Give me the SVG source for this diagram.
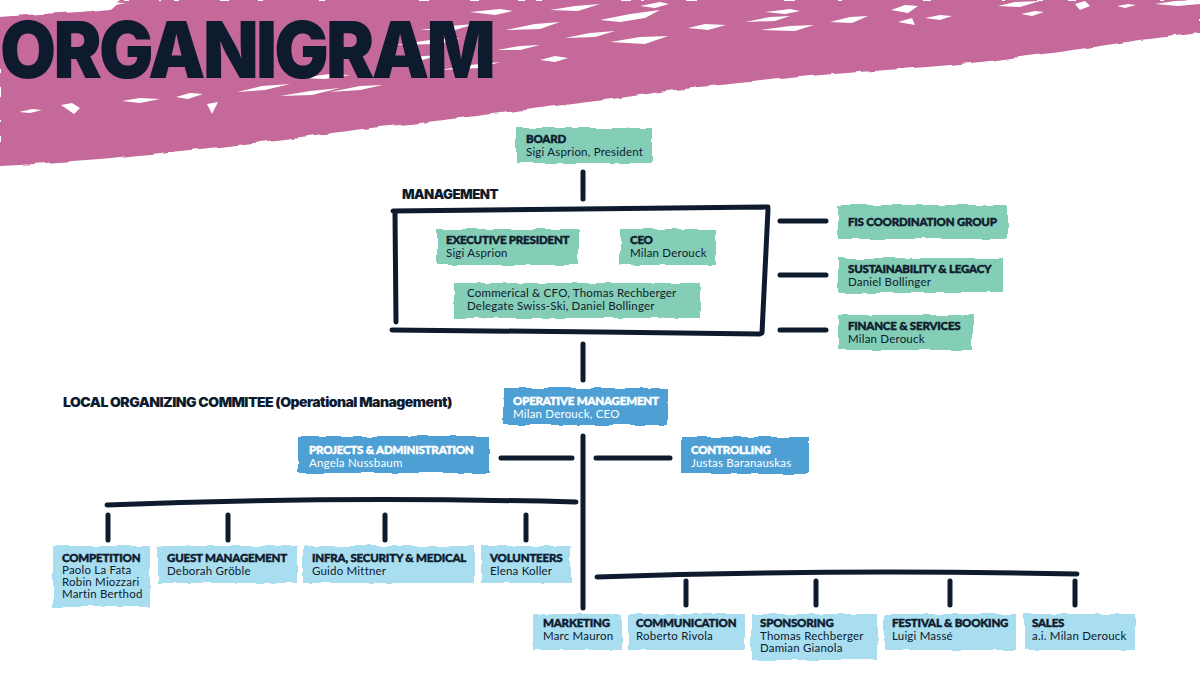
<svg xmlns="http://www.w3.org/2000/svg" width="1200" height="675" viewBox="0 0 1200 675">
<defs>
<filter id="rough" x="-5%" y="-20%" width="110%" height="140%">
<feTurbulence type="fractalNoise" baseFrequency="0.06" numOctaves="2" seed="3" result="n"/>
<feDisplacementMap in="SourceGraphic" in2="n" scale="5" xChannelSelector="R" yChannelSelector="G"/>
</filter>
<style>
.teal{fill:#84CDB6;filter:url(#rough)}
.blue{fill:#4E9FD4;filter:url(#rough)}
.lblue{fill:#A9DDF0;filter:url(#rough)}
.h{font-family:Lato,"Liberation Sans",sans-serif;font-weight:900;font-size:11.5px;fill:#0E1B2E;stroke:#0E1B2E;stroke-width:0.45px;letter-spacing:-0.2px}
.n{font-family:Lato,"Liberation Sans",sans-serif;font-weight:400;font-size:11.5px;fill:#0E1B2E;letter-spacing:0.2px}
.w{fill:#FFFFFF;stroke:none}
.h.w{stroke:#FFFFFF}
.lbl{font-family:Inter,Lato,"Liberation Sans",sans-serif;font-weight:900;font-size:13px;fill:#0E1B2E;letter-spacing:-0.5px}
.ln{stroke:#0E1B2E;stroke-width:5;stroke-linecap:round;fill:none}
.streak{fill:#FFFFFF}
</style>
</defs>
<rect width="1200" height="675" fill="#FFFFFF"/>
<g id="banner">
<path fill="#C5679A" filter="url(#rough)" d="M0,17 L40,14 L80,12 L110,9 L120,0 H1200 V33 L1175,36 L1140,40 L1100,46 L1060,52 L1020,57 L980,62 L940,66 L900,69 L860,72 L820,75 L780,79 L740,83 L700,87 L660,92 L620,98 L580,103 L540,108 L500,113 L460,118 L420,123 L380,127 L340,132 L300,137 L260,142 L220,147 L180,151 L140,155 L100,159 L60,162 L20,165 L0,166 Z"/>
<g class="streak">
<path d="M19,112 L32,109 L42,110 L30,113 Z"/>
<path d="M61,105 L72,103 L80,108 L74,114 Z"/>
<path d="M122,101 L140,98 L160,99 L140,103 Z"/>
<path d="M176,97 L190,93 L203,94 L188,99 Z"/>
<path d="M207,104 L218,102 L212,114 Z"/>
<path d="M78,4 L100,2 L126,3 L105,7 Z"/>
<path d="M237,92 L262,86 L290,84 L265,90 Z"/>
<path d="M280,96 L310,91 L340,88 L312,95 Z"/>
<path d="M300,78 L330,74 L350,75 L325,79 Z"/>
<path d="M330,92 L360,86 L383,85 L360,90 Z"/>
<path d="M383,62 L410,57 L440,55 L415,62 Z"/>
<path d="M395,45 L430,40 L460,38 L440,44 Z"/>
<path d="M420,30 L450,26 L475,24 L455,30 Z"/>
<path d="M440,70 L470,65 L500,62 L480,68 Z"/>
<path d="M470,12 L500,9 L513,11 L495,15 Z"/>
<path d="M497,50 L520,46 L540,45 L520,50 Z"/>
<path d="M505,30 L535,24 L560,22 L540,29 Z"/>
<path d="M540,60 L555,56 L568,58 L555,62 Z"/>
<path d="M550,10 L575,6 L600,4 L578,11 Z"/>
<path d="M565,38 L590,33 L615,31 L595,37 Z"/>
<path d="M600,20 L630,14 L660,10 L645,18 L620,22 Z"/>
<path d="M610,42 L640,37 L668,36 L645,44 Z"/>
<path d="M640,6 L660,2 L669,4 L655,8 Z"/>
<path d="M688,28 L705,24 L726,25 L708,30 Z"/>
<path d="M745,22 L770,17 L790,16 L775,21 Z"/>
<path d="M760,30 L790,26 L814,25 L795,31 Z"/>
<path d="M765,12 L790,9 L800,11 L785,14 Z"/>
<path d="M830,22 L850,17 L868,16 L852,23 Z"/>
<path d="M891,10 L905,5 L918,6 L908,13 Z"/>
<path d="M898,22 L912,18 L915,25 Z"/>
<path d="M925,18 L940,15 L952,16 L940,20 Z"/>
<path d="M998,6 L1015,2 L1040,1 L1020,7 Z"/>
<path d="M1021,14 L1035,11 L1044,12 L1032,16 Z"/>
<path d="M1075,4 L1085,1 L1090,6 L1080,10 Z"/>
<path d="M1117,6 L1128,4 L1136,5 L1125,8 Z"/>
<path d="M1155,4 L1175,1 L1200,0 L1200,4 L1178,6 Z"/>
</g>
<text x="0" y="78" font-family="Inter,Lato,'Liberation Sans',sans-serif" font-weight="900" font-size="78" fill="#0E1B2E" letter-spacing="-3" textLength="493" lengthAdjust="spacingAndGlyphs">ORGANIGRAM</text>
</g>

<g id="connectors">
<path class="ln" d="M583,172 L583,199"/>
<path class="ln" stroke-width="6" d="M393,211 L580,209 L768,207 M395,212 L396,322 M392,330 L600,332 L760,334 M768,209 L762,333"/>
<path class="ln" d="M780,221 L826,221 M780,275 L826,275 M780,330 L826,330"/>
<path class="ln" d="M583,344 L583,380"/>
<path class="ln" d="M583,436 L583,608"/>
<path class="ln" d="M501,458 L572,458 M596,458 L670,458"/>
<path class="ln" stroke-width="6" d="M107,505 Q330,496 576,502"/>
<path class="ln" d="M108,515 L108,540 M228,515 L228,540 M385,515 L385,540 M526,515 L526,540"/>
<path class="ln" stroke-width="6" d="M597,577 Q830,569 1077,574"/>
<path class="ln" d="M686,581 L686,605 M816,581 L816,605 M950,581 L950,605 M1075,581 L1075,605"/>
</g>

<text class="lbl" x="402" y="199" textLength="96" lengthAdjust="spacingAndGlyphs">MANAGEMENT</text>
<text class="lbl" x="63" y="407" textLength="389" lengthAdjust="spacingAndGlyphs">LOCAL ORGANIZING COMMITEE (Operational Management)</text>

<g id="board">
<rect class="teal" x="516" y="128" width="136" height="35"/>
<text class="h" x="526" y="143">BOARD</text>
<text class="n" x="526" y="156">Sigi Asprion, President</text>
</g>
<g id="exec-president">
<rect class="teal" x="437" y="229" width="142" height="36"/>
<text class="h" x="446" y="244">EXECUTIVE PRESIDENT</text>
<text class="n" x="446" y="257">Sigi Asprion</text>
</g>
<g id="ceo">
<rect class="teal" x="620" y="229" width="96" height="36"/>
<text class="h" x="630" y="244">CEO</text>
<text class="n" x="630" y="257">Milan Derouck</text>
</g>
<g id="commercial">
<rect class="teal" x="454" y="283" width="246" height="35"/>
<text class="n" x="467" y="297">Commerical &amp; CFO, Thomas Rechberger</text>
<text class="n" x="467" y="310">Delegate Swiss-Ski, Daniel Bollinger</text>
</g>
<g id="fis">
<rect class="teal" x="838" y="205" width="169" height="34"/>
<text class="h" x="848" y="226">FIS COORDINATION GROUP</text>
</g>
<g id="sustainability">
<rect class="teal" x="838" y="258" width="165" height="35"/>
<text class="h" x="848" y="273">SUSTAINABILITY &amp; LEGACY</text>
<text class="n" x="848" y="286">Daniel Bollinger</text>
</g>
<g id="finance">
<rect class="teal" x="838" y="315" width="135" height="35"/>
<text class="h" x="848" y="330">FINANCE &amp; SERVICES</text>
<text class="n" x="848" y="343">Milan Derouck</text>
</g>

<g id="operative">
<rect class="blue" x="503" y="388" width="165" height="37"/>
<text class="h w" x="513" y="405">OPERATIVE MANAGEMENT</text>
<text class="n w" x="513" y="418">Milan Derouck, CEO</text>
</g>
<g id="projects">
<rect class="blue" x="298" y="436" width="191" height="37"/>
<text class="h w" x="309" y="454">PROJECTS &amp; ADMINISTRATION</text>
<text class="n w" x="309" y="467">Angela Nussbaum</text>
</g>
<g id="controlling">
<rect class="blue" x="681" y="437" width="127" height="37"/>
<text class="h w" x="691" y="454">CONTROLLING</text>
<text class="n w" x="691" y="467">Justas Baranauskas</text>
</g>

<g id="competition">
<rect class="lblue" x="53" y="546" width="97" height="61"/>
<text class="h" x="62" y="562">COMPETITION</text>
<text class="n" x="62" y="574">Paolo La Fata</text>
<text class="n" x="62" y="586">Robin Miozzari</text>
<text class="n" x="62" y="598">Martin Berthod</text>
</g>
<g id="guest">
<rect class="lblue" x="158" y="546" width="139" height="37"/>
<text class="h" x="167" y="562">GUEST MANAGEMENT</text>
<text class="n" x="167" y="575">Deborah Gröble</text>
</g>
<g id="infra">
<rect class="lblue" x="303" y="546" width="171" height="37"/>
<text class="h" x="312" y="562">INFRA, SECURITY &amp; MEDICAL</text>
<text class="n" x="312" y="575">Guido Mittner</text>
</g>
<g id="volunteers">
<rect class="lblue" x="481" y="546" width="90" height="37"/>
<text class="h" x="490" y="562">VOLUNTEERS</text>
<text class="n" x="490" y="575">Elena Koller</text>
</g>

<g id="marketing">
<rect class="lblue" x="533" y="614" width="89" height="36"/>
<text class="h" x="543" y="627">MARKETING</text>
<text class="n" x="543" y="640">Marc Mauron</text>
</g>
<g id="communication">
<rect class="lblue" x="628" y="614" width="117" height="36"/>
<text class="h" x="636" y="627">COMMUNICATION</text>
<text class="n" x="636" y="640">Roberto Rivola</text>
</g>
<g id="sponsoring">
<rect class="lblue" x="751" y="614" width="127" height="46"/>
<text class="h" x="760" y="627">SPONSORING</text>
<text class="n" x="760" y="640">Thomas Rechberger</text>
<text class="n" x="760" y="652">Damian Gianola</text>
</g>
<g id="festival">
<rect class="lblue" x="884" y="614" width="132" height="36"/>
<text class="h" x="892" y="627">FESTIVAL &amp; BOOKING</text>
<text class="n" x="892" y="640">Luigi Massé</text>
</g>
<g id="sales">
<rect class="lblue" x="1024" y="614" width="111" height="36"/>
<text class="h" x="1032" y="627">SALES</text>
<text class="n" x="1032" y="640">a.i. Milan Derouck</text>
</g>
</svg>
